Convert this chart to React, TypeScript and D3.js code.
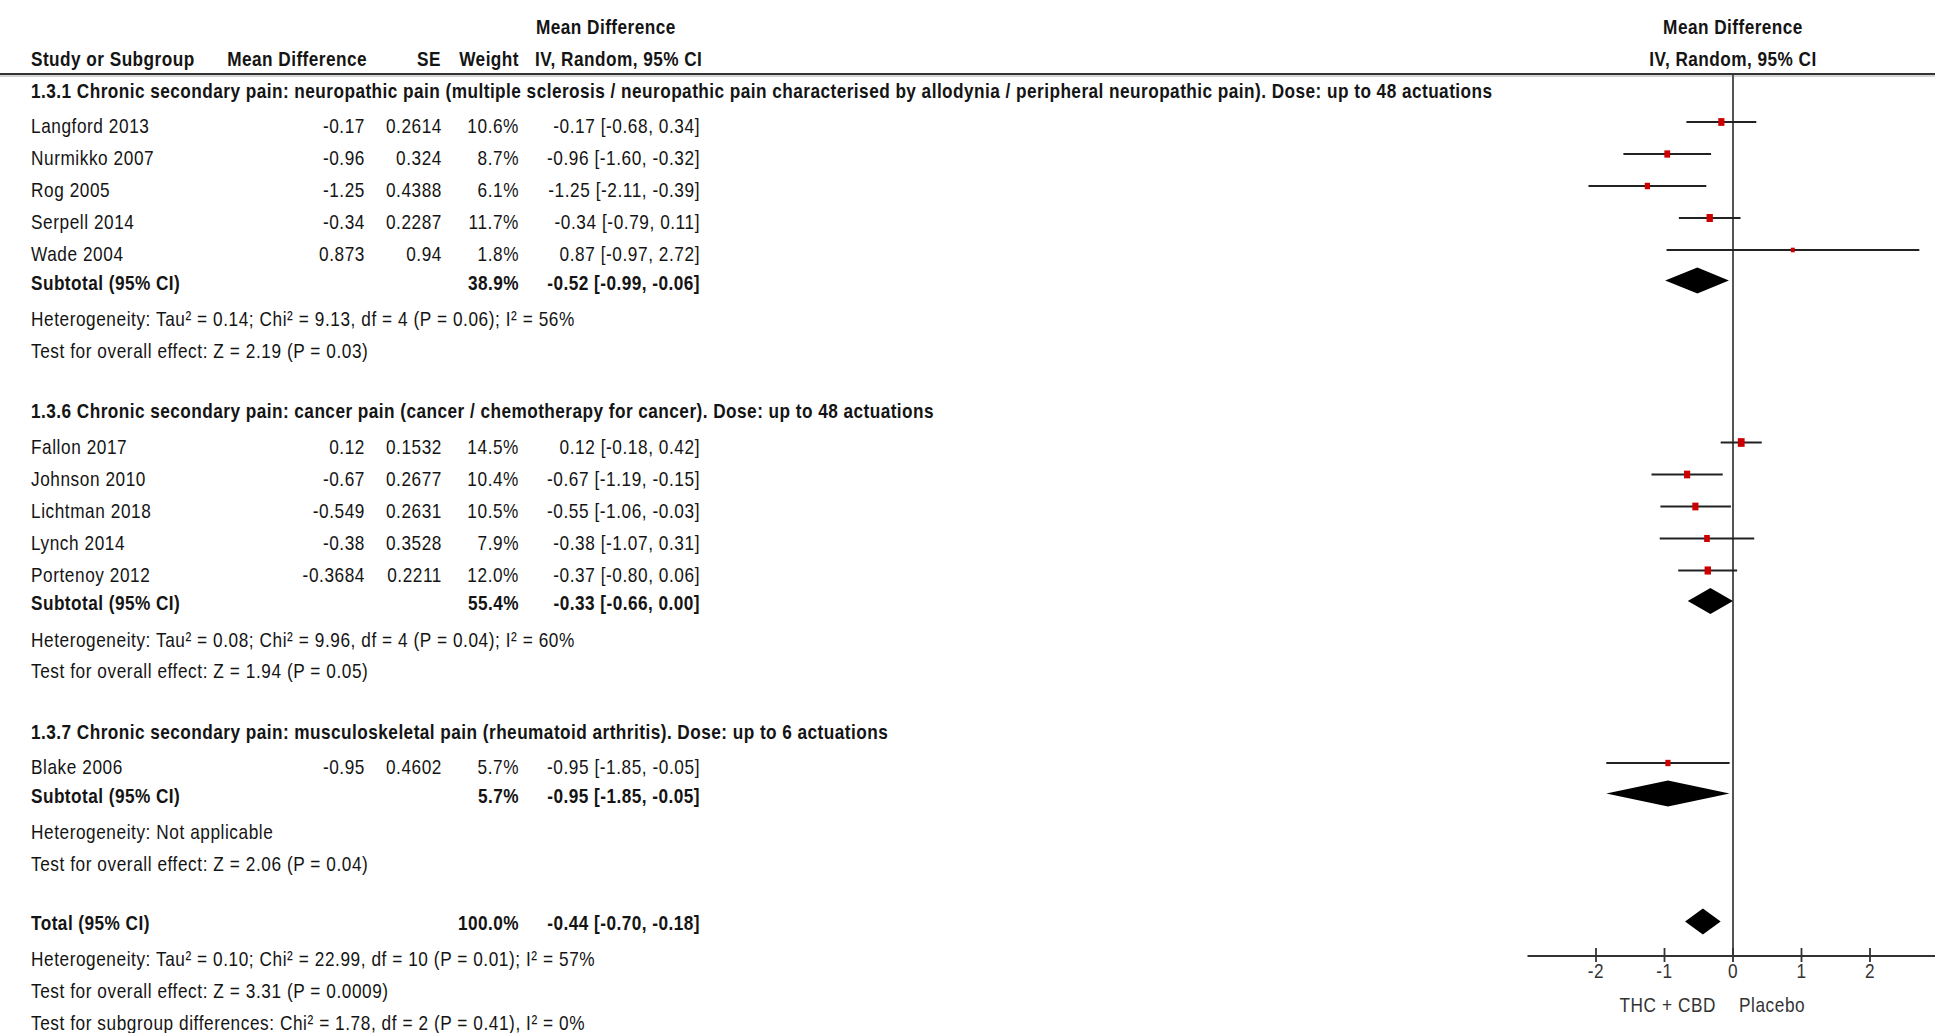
import React from "react";
import * as d3 from "d3";

// ---------- DATA ----------
const groupTitles = [
  "1.3.1 Chronic secondary pain: neuropathic pain (multiple sclerosis / neuropathic pain characterised by allodynia / peripheral neuropathic pain). Dose: up to 48 actuations",
  "1.3.6 Chronic secondary pain: cancer pain (cancer / chemotherapy for cancer). Dose: up to 48 actuations",
  "1.3.7 Chronic secondary pain: musculoskeletal pain (rheumatoid arthritis). Dose: up to 6 actuations",
];

const studyNames = [
  ["Langford 2013", "Nurmikko 2007", "Rog 2005", "Serpell 2014", "Wade 2004"],
  ["Fallon 2017", "Johnson 2010", "Lichtman 2018", "Lynch 2014", "Portenoy 2012"],
  ["Blake 2006"],
];
const studyMD = [
  [-0.17, -0.96, -1.25, -0.34, 0.873],
  [0.12, -0.67, -0.549, -0.38, -0.3684],
  [-0.95],
];
const studySE = [
  [0.2614, 0.324, 0.4388, 0.2287, 0.94],
  [0.1532, 0.2677, 0.2631, 0.3528, 0.2211],
  [0.4602],
];
const studyWeight = [
  [10.6, 8.7, 6.1, 11.7, 1.8],
  [14.5, 10.4, 10.5, 7.9, 12.0],
  [5.7],
];
const studyCILow = [
  [-0.68, -1.6, -2.11, -0.79, -0.97],
  [-0.18, -1.19, -1.06, -1.07, -0.8],
  [-1.85],
];
const studyCIHigh = [
  [0.34, -0.32, -0.39, 0.11, 2.72],
  [0.42, -0.15, -0.03, 0.31, 0.06],
  [-0.05],
];

const subtotalWeight = [38.9, 55.4, 5.7];
const subtotalEst = [-0.52, -0.33, -0.95];
const subtotalLow = [-0.99, -0.66, -1.85];
const subtotalHigh = [-0.06, 0.0, -0.05];
const heterogeneityText = [
  "Heterogeneity: Tau\u00B2 = 0.14; Chi\u00B2 = 9.13, df = 4 (P = 0.06); I\u00B2 = 56%",
  "Heterogeneity: Tau\u00B2 = 0.08; Chi\u00B2 = 9.96, df = 4 (P = 0.04); I\u00B2 = 60%",
  "Heterogeneity: Not applicable",
];
const overallEffectText = [
  "Test for overall effect: Z = 2.19 (P = 0.03)",
  "Test for overall effect: Z = 1.94 (P = 0.05)",
  "Test for overall effect: Z = 2.06 (P = 0.04)",
];

const totalWeight = 100.0;
const totalEst = -0.44;
const totalLow = -0.7;
const totalHigh = -0.18;
const totalFooter = [
  "Heterogeneity: Tau\u00B2 = 0.10; Chi\u00B2 = 22.99, df = 10 (P = 0.01); I\u00B2 = 57%",
  "Test for overall effect: Z = 3.31 (P = 0.0009)",
  "Test for subgroup differences: Chi\u00B2 = 1.78, df = 2 (P = 0.41), I\u00B2 = 0%",
];

const axisTicks = [-2, -1, 0, 1, 2];
const axisDomain = [-3, 3];
const favoursLeft = "THC + CBD";
const favoursRight = "Placebo";
const columnHeaders = ["Study or Subgroup", "Mean Difference", "SE", "Weight", "IV, Random, 95% CI"];
const effectHeader = "Mean Difference";

// ---------- LAYOUT ----------
const W = 1935;
const H = 1033;
const FONT = "'Liberation Sans', Arial, sans-serif";
const FS = 21;
const SX = 0.82; // horizontal condensing (narrow face)
const LS = 0.7;
const LS_BOLD = 0.56;
const BASE = 7.5; // text center -> baseline
const TXT = "#141414";

const colName = 31;
const colMD = 365;
const colSE = 442;
const colW = 519;
const colCI = 700;
const ciHeaderLeft = 535;

const fmtCI = (e: number, l: number, h: number) =>
  `${e.toFixed(2)} [${l.toFixed(2)}, ${h.toFixed(2)}]`;

type Row =
  | { kind: "header"; y: number; g: number }
  | { kind: "study"; y: number; g: number; i: number }
  | { kind: "subtotal"; y: number; g: number }
  | { kind: "text"; y: number; text: string }
  | { kind: "total"; y: number };

function buildRows(): Row[] {
  const rows: Row[] = [];
  let y = 90;
  groupTitles.forEach((_, g) => {
    if (g > 0) y += 60.5;
    rows.push({ kind: "header", y, g });
    studyNames[g].forEach((__, i) => {
      y += i === 0 ? 35.5 : 32;
      rows.push({ kind: "study", y, g, i });
    });
    y += 28.5;
    rows.push({ kind: "subtotal", y, g });
    y += 36.5;
    rows.push({ kind: "text", y, text: heterogeneityText[g] });
    y += 31.5;
    rows.push({ kind: "text", y, text: overallEffectText[g] });
  });
  y += 59.5;
  rows.push({ kind: "total", y });
  totalFooter.forEach((t, k) => {
    y += k === 0 ? 36 : 32;
    rows.push({ kind: "text", y, text: t });
  });
  return rows;
}

function T({ x, y, children, fontWeight, ...rest }: any) {
  return (
    <text
      transform={`translate(${x},${y}) scale(${SX},1)`}
      fontFamily={FONT}
      fontSize={FS}
      fontWeight={fontWeight}
      letterSpacing={fontWeight === "bold" ? LS_BOLD : LS}
      fill={TXT}
      {...rest}
    >
      {children}
    </text>
  );
}

export default function App() {
  const x = d3.scaleLinear().domain(axisDomain).range([1527.5, 1938.5]);
  const markW = d3.scaleSqrt().domain([0, 16]).range([0, 4.6]);
  const markH = d3.scaleSqrt().domain([0, 16]).range([0, 6.6]);
  const rows = buildRows();
  const axisY = 956;
  const headerLineY = 74;
  const diamondHalf = 13;

  const diamond = (est: number, lo: number, hi: number, cy: number) =>
    d3.line()([
      [x(lo), cy],
      [x(est), cy - diamondHalf],
      [x(hi), cy],
      [x(est), cy + diamondHalf],
    ]) + "Z";

  return (
    <svg
      width={W}
      height={H}
      style={{ position: "fixed", left: 0, top: 0, background: "#fff" }}
    >
      <rect width={W} height={H} fill="#fff" />
      {/* column headers */}
      <T x={ciHeaderLeft + 1} y={26 + BASE} fontWeight="bold">{effectHeader}</T>
      <T x={colName} y={58 + BASE} fontWeight="bold">{columnHeaders[0]}</T>
      <T x={colMD + 2} y={58 + BASE} textAnchor="end" fontWeight="bold">{columnHeaders[1]}</T>
      <T x={colSE - 1} y={58 + BASE} textAnchor="end" fontWeight="bold">{columnHeaders[2]}</T>
      <T x={colW} y={58 + BASE} textAnchor="end" fontWeight="bold">{columnHeaders[3]}</T>
      <T x={ciHeaderLeft} y={58 + BASE} fontWeight="bold">{columnHeaders[4]}</T>
      <T x={x(0)} y={26 + BASE} textAnchor="middle" fontWeight="bold">{effectHeader}</T>
      <T x={x(0)} y={58 + BASE} textAnchor="middle" fontWeight="bold">{columnHeaders[4]}</T>

      <line x1={0} x2={W} y1={headerLineY} y2={headerLineY} stroke="#333" strokeWidth={1.8} />
      <line x1={0} x2={W} y1={headerLineY + 2} y2={headerLineY + 2} stroke="#aaa" strokeWidth={1} />

      {/* zero line */}
      <line x1={x(0)} x2={x(0)} y1={headerLineY + 1} y2={axisY} stroke="#555" strokeWidth={2} />

      {rows.map((r, k) => {
        if (r.kind === "header") {
          return (
            <T key={k} x={colName} y={r.y + BASE} fontWeight="bold">
              {groupTitles[r.g]}
            </T>
          );
        }
        if (r.kind === "study") {
          const md = studyMD[r.g][r.i];
          const lo = studyCILow[r.g][r.i];
          const hi = studyCIHigh[r.g][r.i];
          const w = studyWeight[r.g][r.i];
          const my = r.y - 3.5;
          const mw = 2.4 + markW(w);
          const mh = 2.4 + markH(w);
          return (
            <g key={k}>
              <T x={colName} y={r.y + BASE}>{studyNames[r.g][r.i]}</T>
              <T x={colMD} y={r.y + BASE} textAnchor="end">{String(md)}</T>
              <T x={colSE} y={r.y + BASE} textAnchor="end">{String(studySE[r.g][r.i])}</T>
              <T x={colW} y={r.y + BASE} textAnchor="end">{w.toFixed(1) + "%"}</T>
              <T x={colCI} y={r.y + BASE} textAnchor="end">{fmtCI(md, lo, hi)}</T>
              <line x1={x(lo)} x2={x(hi)} y1={my} y2={my} stroke="#222" strokeWidth={2} />
              <rect x={x(md) - mw / 2} y={my - mh / 2} width={mw} height={mh} fill="#cc0000" />
            </g>
          );
        }
        if (r.kind === "subtotal") {
          return (
            <g key={k}>
              <T x={colName} y={r.y + BASE} fontWeight="bold">Subtotal (95% CI)</T>
              <T x={colW} y={r.y + BASE} textAnchor="end" fontWeight="bold">
                {subtotalWeight[r.g].toFixed(1) + "%"}
              </T>
              <T x={colCI} y={r.y + BASE} textAnchor="end" fontWeight="bold">
                {fmtCI(subtotalEst[r.g], subtotalLow[r.g], subtotalHigh[r.g])}
              </T>
              <path d={diamond(subtotalEst[r.g], subtotalLow[r.g], subtotalHigh[r.g], r.y - 1.5)} fill="#000" />
            </g>
          );
        }
        if (r.kind === "total") {
          return (
            <g key={k}>
              <T x={colName} y={r.y + BASE} fontWeight="bold">Total (95% CI)</T>
              <T x={colW} y={r.y + BASE} textAnchor="end" fontWeight="bold">
                {totalWeight.toFixed(1) + "%"}
              </T>
              <T x={colCI} y={r.y + BASE} textAnchor="end" fontWeight="bold">
                {fmtCI(totalEst, totalLow, totalHigh)}
              </T>
              <path d={diamond(totalEst, totalLow, totalHigh, r.y - 1)} fill="#000" />
            </g>
          );
        }
        return (
          <T key={k} x={colName} y={r.y + BASE}>{r.text}</T>
        );
      })}

      {/* axis */}
      <line x1={x(axisDomain[0])} x2={x(axisDomain[1])} y1={axisY} y2={axisY} stroke="#333" strokeWidth={2} />
      {axisTicks.map((t) => (
        <g key={t}>
          <line x1={x(t)} x2={x(t)} y1={axisY - 8} y2={axisY + 6} stroke="#333" strokeWidth={1.8} />
          <T x={x(t)} y={970 + BASE} textAnchor="middle" fill="#333">
            {t < 0 ? "-" + Math.abs(t) : String(t)}
          </T>
        </g>
      ))}
      <T x={x(0) - 17} y={1004 + BASE} textAnchor="end" fill="#333">{favoursLeft}</T>
      <T x={x(0) + 6} y={1004 + BASE} textAnchor="start" fill="#333">{favoursRight}</T>
    </svg>
  );
}
